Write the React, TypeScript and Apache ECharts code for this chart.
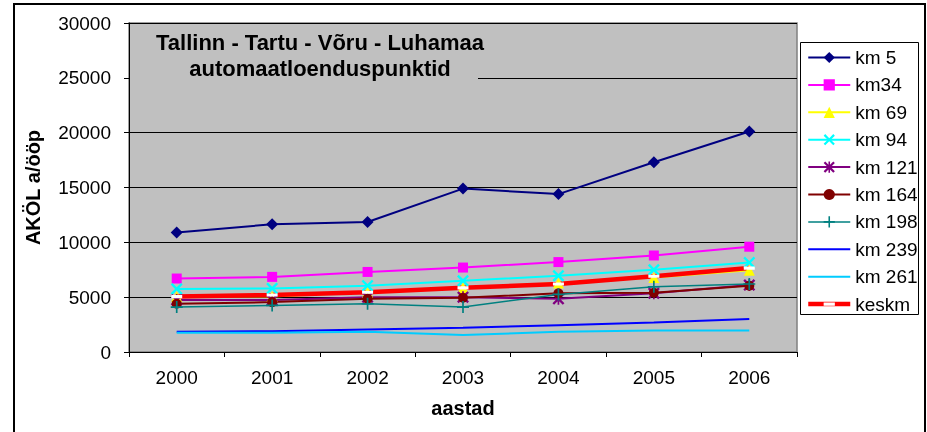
import React, { useEffect, useRef } from "react";
import * as echarts from "echarts";

const years = ["2000", "2001", "2002", "2003", "2004", "2005", "2006"];
const km5 = [10900, 11650, 11850, 14900, 14400, 17300, 20100];
const km34 = [6700, 6850, 7300, 7700, 8200, 8800, 9600];
const km69 = [5050, 5050, 5450, 5850, 6300, 6800, 7450];
const km94 = [5750, 5800, 6050, 6500, 6950, 7500, 8150];
const km121 = [4750, 4750, 5000, 5000, 4850, 5350, 6100];
const km164 = [4400, 4550, 4850, 4950, 5350, 5400, 6050];
const km198 = [4100, 4250, 4400, 4100, 5250, 5950, 6200];
const km239 = [1850, 1900, 2050, 2200, 2450, 2700, 3000];
const km261 = [1750, 1750, 1850, 1550, 1850, 1950, 1950];
const keskm = [5050, 5200, 5450, 5850, 6200, 6900, 7650];

const titleText = "Tallinn - Tartu - Võru - Luhamaa\nautomaatloenduspunktid";
const yName = "AKÖL a/ööp";
const xName = "aastad";

const FONT = '"Liberation Sans", Arial, sans-serif';

const X_SYM =
  "path://M0,1.4 L1.4,0 L5,3.6 L8.6,0 L10,1.4 L6.4,5 L10,8.6 L8.6,10 L5,6.4 L1.4,10 L0,8.6 L3.6,5 Z";
const PLUS_SYM =
  "path://M4.3,0 H5.7 V4.3 H10 V5.7 H5.7 V10 H4.3 V5.7 H0 V4.3 H4.3 Z";
const STAR_SYM = X_SYM + " M4.3,0 H5.7 V10 H4.3 Z";
const DASH_SYM =
  "path://M0,0 L0.01,0 L0,0.01 Z M0,3.6 H10 V6.4 H0 Z M10,10 L9.99,10 L10,9.99 Z";
const LINE_ICON =
  "path://M0,0 L0.01,0 L0,0.01 Z M0,6 H42 V8 H0 Z M42,14 L41.99,14 L42,13.99 Z";

function mk(
  name: string,
  data: number[],
  color: string,
  symbol: string,
  symbolSize: number,
  width: number,
  symbolColor?: string
) {
  return {
    name,
    type: "line",
    data,
    symbol,
    symbolSize,
    showSymbol: symbol !== "none",
    lineStyle: { color, width },
    itemStyle: { color: symbolColor || color, opacity: 1 },
    emphasis: { disabled: true },
  };
}

export default function App() {
  const ref = useRef<HTMLDivElement>(null);
  useEffect(() => {
    document.body.style.margin = "0";
    if (!ref.current) return;
    const chart = echarts.init(ref.current, undefined, { renderer: "svg" });
    const option: any = {
      animation: false,
      textStyle: { fontFamily: FONT },
      grid: {
        left: 129,
        right: 130,
        top: 23,
        bottom: 80,
        show: true,
        backgroundColor: "#C0C0C0",
        borderColor: "#808080",
        borderWidth: 1.5,
      },
      xAxis: {
        type: "category",
        data: years,
        boundaryGap: true,
        axisLine: { lineStyle: { color: "#000", width: 1 } },
        axisTick: { show: true, inside: false, length: 5, lineStyle: { color: "#000" } },
        axisLabel: { fontSize: 19, color: "#000", fontFamily: FONT, margin: 16 },
        name: xName,
        nameLocation: "middle",
        nameGap: 46,
        nameTextStyle: { fontSize: 20, fontWeight: "bold", color: "#000", fontFamily: FONT },
      },
      yAxis: {
        type: "value",
        min: 0,
        max: 30000,
        interval: 5000,
        axisLine: { show: true, lineStyle: { color: "#000", width: 1 } },
        axisTick: { show: true, inside: false, length: 5, lineStyle: { color: "#000" } },
        axisLabel: {
          fontSize: 19,
          color: "#000",
          fontFamily: FONT,
          margin: 18,
          formatter: (v: number) => String(v),
        },
        splitLine: { show: true, lineStyle: { color: "#000", width: 1 } },
        name: yName,
        nameLocation: "middle",
        nameGap: 86,
        nameRotate: 90,
        nameTextStyle: { fontSize: 20, fontWeight: "bold", color: "#000", fontFamily: FONT },
      },
      legend: {
        orient: "vertical",
        left: 806,
        top: 48,
        padding: 0,
        itemWidth: 42,
        itemHeight: 14,
        itemGap: 8.4,
        selectedMode: false,
        lineStyle: { width: "inherit" },
        textStyle: { fontSize: 19, color: "#000", fontFamily: FONT },
        data: [
          "km 5",
          "km34",
          "km 69",
          "km 94",
          "km 121",
          "km 164",
          "km 198",
          { name: "km 239", icon: LINE_ICON },
          { name: "km 261", icon: LINE_ICON },
          "keskm",
        ],
      },
      graphic: [
        {
          type: "rect",
          silent: true,
          z: 0,
          shape: { x: 14, y: 4, width: 911, height: 440 },
          style: { fill: "none", stroke: "#000", lineWidth: 2 },
        },
        {
          type: "rect",
          silent: true,
          z: 0,
          shape: { x: 800.5, y: 42.5, width: 118, height: 272 },
          style: { fill: "#fff", stroke: "#000", lineWidth: 1 },
        },
        {
          type: "rect",
          silent: true,
          z: 1,
          shape: { x: 130, y: 24, width: 348, height: 58 },
          style: { fill: "#C0C0C0" },
        },
        {
          type: "text",
          silent: true,
          z: 1,
          x: 320,
          y: 29,
          style: {
            text: titleText,
            font: 'bold 22px "Liberation Sans", Arial, sans-serif',
            fill: "#000",
            align: "center",
            verticalAlign: "top",
            textAlign: "center",
            textVerticalAlign: "top",
            lineHeight: 26,
          },
        },
      ],
      series: [
        mk("km 5", km5, "#000080", "diamond", 12, 2),
        mk("km34", km34, "#FF00FF", "rect", 10, 2),
        mk("km 69", km69, "#FFFF00", "triangle", 11, 2),
        mk("km 94", km94, "#00FFFF", X_SYM, 12, 2),
        mk("km 121", km121, "#800080", STAR_SYM, 12, 2),
        mk("km 164", km164, "#800000", "circle", 10, 2),
        mk("km 198", km198, "#008080", PLUS_SYM, 12, 1.5),
        mk("km 239", km239, "#0000FF", "none", 0, 2),
        mk("km 261", km261, "#00CCFF", "none", 0, 2),
        mk("keskm", keskm, "#FF0000", DASH_SYM, 11, 4.5, "#FFFFFF"),
      ],
    };
    chart.setOption(option);
    return () => chart.dispose();
  }, []);
  return <div ref={ref} style={{ width: 927, height: 432, position: "fixed", left: 0, top: 0 }} />;
}
